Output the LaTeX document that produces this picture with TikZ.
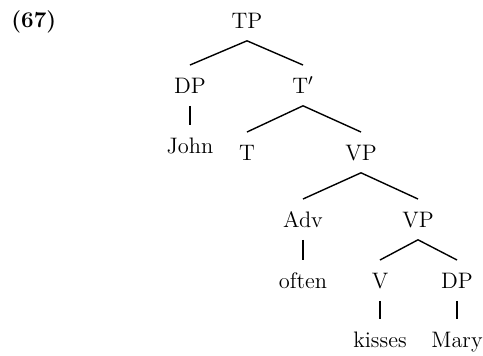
\documentclass[tikz,border=0pt]{standalone}
\begin{document}
\begin{tikzpicture}[x=0.5pt,y=-0.5pt,font=\fontsize{11.2}{13}\selectfont,
    cat/.style={anchor=base,inner xsep=0pt,inner ysep=6.2pt,text height=7.6pt,text depth=0pt},
    edge/.style={line width=0.7pt}]
      \useasboundingbox (0,0) rectangle (483,355);
      \node[anchor=base west,inner sep=0pt] (ex) at (11,27) {\textbf{(67)}};
      \node[cat] (tp) at (247,28) {TP};
      \node[cat] (dp) at (190,93) {DP};
      \node[cat] (tbar) at (303,93) {T$'$};
      \node[cat] (john) at (190,153) {John};
      \node[cat] (t) at (247,160) {T};
      \node[cat] (vp) at (361,160) {VP};
      \node[cat] (adv) at (303,227) {Adv};
      \node[cat] (vpb) at (418,227) {VP};
      \node[cat] (often) at (303,288) {often};
      \node[cat] (v) at (380,288) {V};
      \node[cat] (dpb) at (457,288) {DP};
      \node[cat] (kisses) at (380,347) {kisses};
      \node[cat] (mary) at (457,347) {Mary};
      \draw[edge] (dp.north) -- (tp.south) -- (tbar.north);
      \draw[edge] (dp.south) -- (john.north);
      \draw[edge] (t.north) -- (tbar.south) -- (vp.north);
      \draw[edge] (adv.north) -- (vp.south) -- (vpb.north);
      \draw[edge] (adv.south) -- (often.north);
      \draw[edge] (v.north) -- (vpb.south) -- (dpb.north);
      \draw[edge] (v.south) -- (kisses.north);
      \draw[edge] (dpb.south) -- (mary.north);
    \end{tikzpicture}
\end{document}
